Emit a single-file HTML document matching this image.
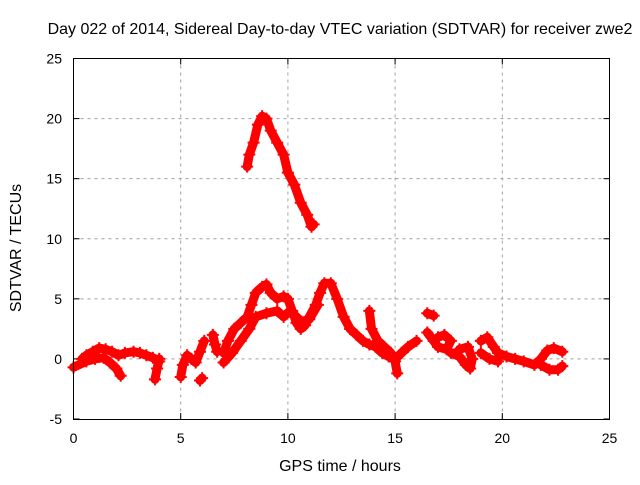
<!DOCTYPE html>
<html><head><meta charset="utf-8"><style>
body{margin:0;background:#fff}
svg text{font-family:"Liberation Sans",sans-serif;font-size:14px;fill:#000}
svg text.big{font-size:16px}
</style></head><body>
<svg id="chart" width="640" height="480" xmlns="http://www.w3.org/2000/svg">
<rect width="640" height="480" fill="#fff"/>
<text class="big" x="340" y="34" text-anchor="middle">Day 022 of 2014, Sidereal Day-to-day VTEC variation (SDTVAR) for receiver zwe2</text>
<g id="grid"></g>
<g id="axes"></g>
<g id="series"></g>
<rect x="73.5" y="58.5" width="536" height="361" fill="none" stroke="#000" stroke-width="1"/>
<text class="big" x="340" y="471" text-anchor="middle">GPS time / hours</text>
<text class="big" transform="translate(21,248) rotate(-90)" text-anchor="middle">SDTVAR / TECUs</text>
</svg>
<script>
const xTicks=[0,5,10,15,20,25];
const yTicks=[-5,0,5,10,15,20,25];
const segA_x=[0.4,0.6,0.9,1.2,1.5,1.8,2.1,2.4,2.8,3.1,3.4,3.7,4.0];
const segA_y=[0.0,0.3,0.6,0.9,0.8,0.6,0.3,0.5,0.6,0.5,0.3,0.1,-0.2];
const segB_x=[0.0,0.6,1.0,1.4,1.7,2.0,2.2];
const segB_y=[-0.7,-0.2,0.0,0.1,-0.3,-0.8,-1.4];
const segC_x=[3.8,3.9,4.0];
const segC_y=[-1.7,-0.8,0.0];
const segD_x=[5.0,5.1,5.3,5.5,5.7,5.9,6.1];
const segD_y=[-1.5,-0.5,0.3,0.0,-0.3,0.6,1.5];
const segE_x=[5.9,6.0];
const segE_y=[-1.8,-1.6];
const segF_x=[6.5,6.6,6.7];
const segF_y=[2.0,1.2,0.6];
const segG_x=[7.0,7.2,7.5,7.8,8.1,8.3,8.5,8.8,9.0,9.2,9.5,9.8,10.0,10.2,10.4,10.6,10.8,11.0,11.3,11.5,11.7,12.0,12.3,12.6,12.9,13.2,13.5,13.8,14.1,14.4,14.7,15.0,15.3,15.6,16.0];
const segG_y=[0.5,1.5,2.5,3.0,3.5,4.5,5.5,6.0,6.2,5.5,5.0,5.2,5.0,4.0,3.0,2.5,2.8,3.5,4.5,5.5,6.3,6.3,5.0,3.5,2.5,2.0,1.5,1.2,1.0,0.5,0.2,0.0,0.5,1.0,1.5];
const segH_x=[7.0,7.4,7.8,8.2,8.5,9.0,9.5,9.8,10.1,10.4,10.7,11.0,11.4];
const segH_y=[-0.3,0.5,1.5,2.5,3.5,3.8,4.0,3.5,4.0,3.5,3.0,3.3,4.5];
const segI_x=[13.8,13.9,14.2,14.5,14.8,15.0,15.1];
const segI_y=[4.0,2.5,1.5,1.0,0.5,-0.2,-1.2];
const segJ_x=[16.5,16.8];
const segJ_y=[3.8,3.6];
const segK_x=[16.5,16.8,17.0,17.4,17.6,17.3,17.0];
const segK_y=[2.2,1.5,1.0,0.8,1.5,2.0,1.8];
const segL_x=[17.6,18.0,18.3,18.5,18.6,18.4,18.0];
const segL_y=[0.5,0.2,-0.5,-0.8,0.0,1.0,0.8];
const segM_x=[19.0,19.3,19.6,19.8,20.2,20.6,21.0,21.5,21.8,22.1,22.4,22.8];
const segM_y=[1.5,1.8,1.0,0.5,0.2,0.0,-0.2,-0.5,0.0,0.7,0.9,0.6];
const segN_x=[21.8,22.2,22.6,22.8];
const segN_y=[-0.5,-0.9,-0.9,-0.6];
const segO_x=[19.0,19.4,19.8];
const segO_y=[0.5,0.0,-0.2];
const segP_x=[8.1,8.2,8.4,8.6,8.8,9.0,9.2,9.5,9.8,10.0,10.3,10.6,10.9,11.1,11.2];
const segP_y=[16,17,18,19.5,20.2,20,19,18,17,15.5,14.5,13,12,11,11.2];
const allSeries=[[segA_x,segA_y],[segB_x,segB_y],[segC_x,segC_y],[segD_x,segD_y],[segE_x,segE_y],[segF_x,segF_y],[segG_x,segG_y],[segH_x,segH_y],[segI_x,segI_y],[segJ_x,segJ_y],[segK_x,segK_y],[segL_x,segL_y],[segM_x,segM_y],[segN_x,segN_y],[segO_x,segO_y],[segP_x,segP_y]];
const NS="http://www.w3.org/2000/svg";
const X0=73.5,X1=609.5,Y0=419,Y1=58.5;
function sx(v){return X0+(v-0)/25*(X1-X0);}
function sy(v){return Y0-(v+5)/30*(Y0-Y1);}
function mk(t,a,p){const e=document.createElementNS(NS,t);for(const k in a)e.setAttribute(k,a[k]);p.appendChild(e);return e;}
const grid=document.getElementById('grid'),axes=document.getElementById('axes'),ser=document.getElementById('series');
xTicks.forEach(t=>{const x=sx(t);
 if(t>0&&t<25){const g=mk('line',{x1:x,x2:x,y1:Y1,y2:Y0,stroke:'#a0a0a0','stroke-dasharray':'3,4'},grid);
 
 }
 mk('line',{x1:x,x2:x,y1:Y0,y2:Y0-6,stroke:'#000'},axes);
 mk('line',{x1:x,x2:x,y1:Y1,y2:Y1+6,stroke:'#000'},axes);
 const l=mk('text',{x:x,y:443,'text-anchor':'middle'},axes);l.textContent=t;
 
 
});
yTicks.forEach(t=>{const y=sy(t);
 if(t>-5&&t<25){const g=mk('line',{x1:X0,x2:X1,y1:y,y2:y,stroke:'#a0a0a0','stroke-dasharray':'3,4'},grid);
 
 }
 mk('line',{x1:X0,x2:X0+6,y1:y,y2:y,stroke:'#000'},axes);
 mk('line',{x1:X1,x2:X1-6,y1:y,y2:y,stroke:'#000'},axes);
 const l=mk('text',{x:62,y:y+5,'text-anchor':'end'},axes);l.textContent=t;
 
 
});
allSeries.forEach(s=>{const xs=s[0],ys=s[1];
 const pts=xs.map((v,i)=>sx(v)+','+sy(ys[i])).join(' ');
 const pl=mk('polyline',{points:pts,fill:'none',stroke:'#f00','stroke-width':9,'stroke-linejoin':'round','stroke-linecap':'round'},ser);
 
 
 xs.forEach((v,i)=>{const x=sx(v),y=sy(ys[i]);
  const p=mk('path',{d:`M${x-6},${y}H${x+6}M${x},${y-6}V${y+6}`,stroke:'#f00','stroke-width':2},ser);
  
  
 });
});
</script>
</body></html>
